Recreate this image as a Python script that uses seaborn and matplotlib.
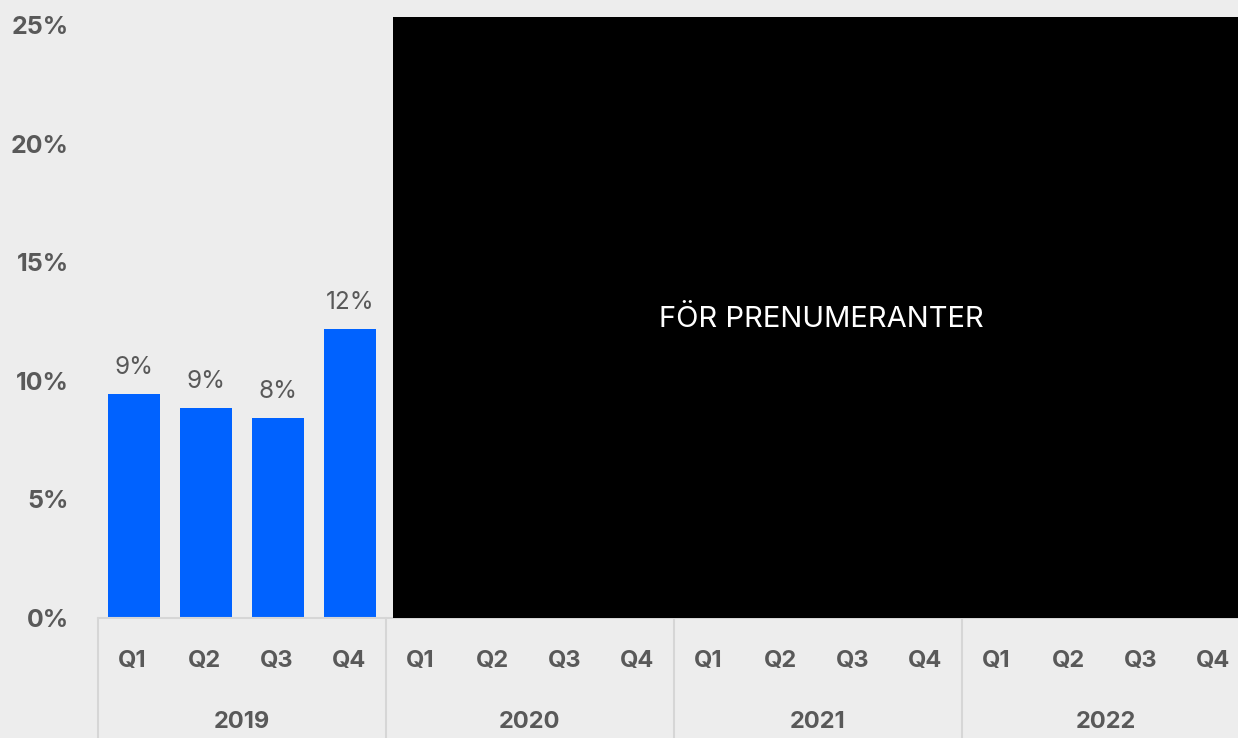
import matplotlib
matplotlib.use("Agg")
import matplotlib.pyplot as plt
from matplotlib.patches import Rectangle
import seaborn as sns
import pandas as pd

years = ["2019", "2020", "2021", "2022"]
quarters = ["Q1", "Q2", "Q3", "Q4"]
visible_periods = ["2019 Q1", "2019 Q2", "2019 Q3", "2019 Q4"]
visible_values = [9.44, 8.85, 8.43, 12.18]
value_labels = ["9%", "9%", "8%", "12%"]
ytick_values = [0, 5, 10, 15, 20, 25]
ytick_labels = ["0%", "5%", "10%", "15%", "20%", "25%"]
overlay_text = "FÖR PRENUMERANTER"

BG = "#ededed"
BLUE = "#0062ff"
GRAY = "#595959"
LINE = "#d6d6d6"

sns.set_theme(style="white")
plt.rcParams["font.family"] = ["Inter", "DejaVu Sans"]

order = [f"{y} {q}" for y in years for q in quarters]
df = pd.DataFrame({"period": visible_periods, "value": visible_values})

W, H = 1238, 738
AX_L, AX_B, AX_W, AX_H = 98, 120, 1152, 601
fig = plt.figure(figsize=(W / 100, H / 100), dpi=100, facecolor=BG)
ax = fig.add_axes([AX_L / W, AX_B / H, AX_W / W, AX_H / H])
ax.set_facecolor(BG)

sns.barplot(data=df, x="period", y="value", order=order, color=BLUE,
            width=0.72, saturation=1, linewidth=0, ax=ax)

ax.set_xlim(-0.5, len(order) - 0.5)
ax.set_ylim(0, 25.34)
for s in ax.spines.values():
    s.set_visible(False)

ax.set_yticks(ytick_values)
ax.set_yticklabels(ytick_labels, fontsize=18, fontweight="bold", color=GRAY)
ax.tick_params(axis="y", length=0, pad=21)
ax.set_xticks([])
ax.set_xlabel("")
ax.set_ylabel("")

# value labels
for container in ax.containers:
    ax.bar_label(container, labels=value_labels, padding=11, fontsize=17.5,
                 color=GRAY, fontweight="normal")

# quarter and year labels
xt = ax.get_xaxis_transform()
for i, lab in enumerate(order):
    ax.text(i - 0.02, -43 / AX_H, lab.split(" ")[1], transform=xt, ha="center",
            va="center", fontsize=17, fontweight="bold", color=GRAY)
for g, y in enumerate(years):
    ax.text(g * 4 + 1.5, -104 / AX_H, y, transform=xt, ha="center", va="center",
            fontsize=17, fontweight="bold", color=GRAY)
    ax.plot([g * 4 - 0.5, g * 4 - 0.5], [0, -0.2], transform=xt, color=LINE,
            lw=1.5, clip_on=False)
ax.plot([-0.5, len(order) - 0.5], [0, 0], transform=xt, color=LINE, lw=1.5,
        clip_on=False, zorder=1)

# subscriber overlay
x0 = (393 - AX_L) / AX_W
ax.add_patch(Rectangle((x0, 0), 1 - x0, 1, transform=ax.transAxes,
                       facecolor="black", edgecolor="none", zorder=5, clip_on=False))
ax.text((821 - AX_L) / AX_W, 0.496, overlay_text, transform=ax.transAxes,
        ha="center", va="center", color="white", fontsize=21, zorder=6)

fig.savefig("out.png", dpi=100, facecolor=BG)
